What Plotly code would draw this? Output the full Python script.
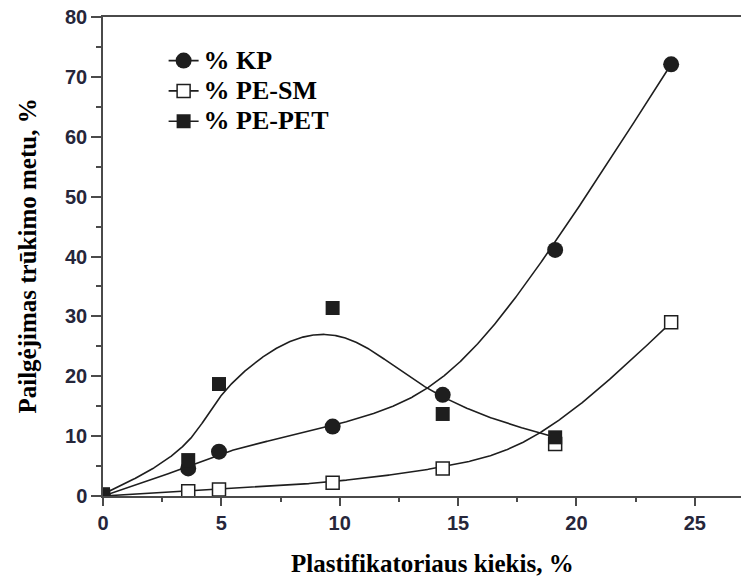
import numpy as np
import plotly.graph_objects as go

# ---- data ----
x_kp = [0, 3.6, 4.9, 9.7, 14.35, 19.1, 24.0]
y_kp = [0, 4.6, 7.4, 11.6, 16.9, 41.1, 72.1]

x_sm = [0, 3.6, 4.9, 9.7, 14.35, 19.1, 24.0]
y_sm = [0, 0.8, 1.1, 2.2, 4.6, 8.7, 29.0]

x_pet = [0, 3.6, 4.9, 9.7, 14.35, 19.1]
y_pet = [0.3, 6.0, 18.7, 31.4, 13.7, 9.8]

x_ticks = [0, 5, 10, 15, 20, 25]
y_ticks = [0, 10, 20, 30, 40, 50, 60, 70, 80]

names = ["% KP", "% PE-SM", "% PE-PET"]


def bspline(xc, yc, num=800, k=2, sigma=0.055):
    """Clamped uniform B-spline with the data points as control points,
    lightly smoothed along the parameter to soften curvature jumps."""
    P = np.column_stack([np.asarray(xc, float), np.asarray(yc, float)])
    n = len(P)
    inner = np.linspace(0, 1, n - k + 1)[1:-1]
    U = np.concatenate([np.zeros(k + 1), inner, np.ones(k + 1)])
    ts = np.linspace(0, 1, num)
    out = []
    for t in ts:
        if t >= 1.0:
            out.append(P[-1])
            continue
        s = np.searchsorted(U, t, side="right") - 1
        d = [P[j + s - k].copy() for j in range(k + 1)]
        for r in range(1, k + 1):
            for j in range(k, r - 1, -1):
                i = j + s - k
                a = (t - U[i]) / (U[i + 1 + k - r] - U[i])
                d[j] = (1 - a) * d[j - 1] + a * d[j]
        out.append(d[k])
    C = np.array(out)
    # gaussian smoothing with odd reflection at both ends (keeps end points)
    w = int(round(sigma * num * 3))
    g = np.exp(-0.5 * (np.arange(-w, w + 1) / (sigma * num)) ** 2)
    g /= g.sum()
    head = 2 * C[0] - C[1:w + 1][::-1]
    tail = 2 * C[-1] - C[-w - 1:-1][::-1]
    Cp = np.vstack([head, C, tail])
    sm = np.column_stack([np.convolve(Cp[:, 0], g, mode="valid"),
                          np.convolve(Cp[:, 1], g, mode="valid")])
    return sm[:, 0], sm[:, 1]


cx_kp, cy_kp = bspline(x_kp, y_kp)
cx_sm, cy_sm = bspline(x_sm, y_sm)
cx_pet, cy_pet = bspline(x_pet, y_pet)

INK = "#1e1e1e"
SERIF = "Liberation Serif, Times New Roman, serif"
SANS = "Liberation Sans, Arial, sans-serif"
TICKC = "#26263a"
LW = 1.6

fig = go.Figure()

# curves
for xs_, ys_ in [(cx_kp, cy_kp), (cx_sm, cy_sm), (cx_pet, cy_pet)]:
    fig.add_trace(go.Scatter(x=xs_, y=ys_, mode="lines", showlegend=False,
                             hoverinfo="skip", line=dict(color=INK, width=LW)))

# markers
marker_kp = dict(symbol="circle", size=16, color=INK, line=dict(width=0))
marker_sm = dict(symbol="square", size=13, color="white", line=dict(width=1.5, color=INK))
marker_pet = dict(symbol="square", size=14, color=INK, line=dict(width=0))

fig.add_trace(go.Scatter(x=x_kp, y=y_kp, mode="markers", marker=marker_kp, showlegend=False))
fig.add_trace(go.Scatter(x=x_sm, y=y_sm, mode="markers", marker=marker_sm, showlegend=False))
fig.add_trace(go.Scatter(x=x_pet, y=y_pet, mode="markers", marker=marker_pet, showlegend=False))

# legend entries
for nm, mk in zip(names, [marker_kp, marker_sm, marker_pet]):
    fig.add_trace(go.Scatter(x=[None], y=[None],
                             name="<span style='font-size:26px'>" + nm + "</span>",
                             mode="lines+markers",
                             line=dict(color=INK, width=LW), marker=mk))

axis_common = dict(
    showgrid=False, zeroline=False, showline=True,
    linecolor="#4a4a4a", linewidth=1.5,
    ticks="outside", tickcolor="#4a4a4a", tickwidth=1.5,
    tickfont=dict(family=SANS, size=20, color=TICKC, weight="bold"),
)

fig.update_xaxes(
    **axis_common, range=[0, 26.95], tickvals=x_ticks, ticklen=8, mirror=True,
    minor=dict(dtick=2.5, tick0=0, ticks="outside", ticklen=4, tickcolor="#4a4a4a", tickwidth=1.5),
)
fig.update_yaxes(
    **axis_common, range=[0, 80], tickvals=y_ticks, ticklen=10,
    minor=dict(dtick=5, tick0=0, ticks="outside", ticklen=5, tickcolor="#4a4a4a", tickwidth=1.5),
)

fig.update_layout(
    width=741, height=579,
    margin=dict(l=103, r=0, t=17, b=83),
    paper_bgcolor="white", plot_bgcolor="white",
    showlegend=True,
    legend=dict(
        x=0.095, y=0.951, xanchor="left", yanchor="top",
        bgcolor="rgba(0,0,0,0)", borderwidth=0,
        font=dict(family=SERIF, size=21, color="black", weight="bold"),
        tracegroupgap=0, itemsizing="trace",
    ),
    annotations=[
        dict(text="<b>Plastifikatoriaus kiekis, %</b>", xref="paper", yref="paper",
             x=0.517, y=-0.14, xanchor="center", yanchor="middle", showarrow=False,
             font=dict(family=SERIF, size=25, color="black")),
        dict(text="<b>Pailgėjimas trūkimo metu, %</b>", xref="paper", yref="paper",
             x=-0.119, y=0.5, xanchor="center", yanchor="middle", showarrow=False,
             textangle=-90, font=dict(family=SERIF, size=25, color="black")),
    ],
)

fig.write_html("out.html")
